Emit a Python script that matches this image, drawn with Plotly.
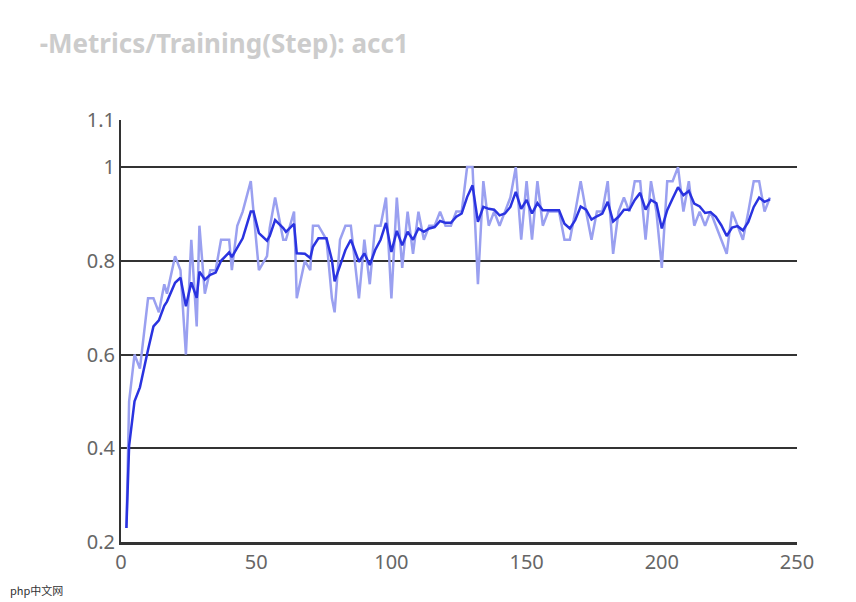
import plotly.graph_objects as go

steps = [2,3,5,7,10,12,14,16,17,20,22,24,26,28,29,31,33,35,37,40,41,43,45,48,49,51,54,55,57,60,61,64,65,68,70,71,73,76,78,79,81,83,85,
         88,90,92,94,96,98,100,102,104,106,108,110,112,114,116,118,120,122,124,126,128,130,132,134,136,138,140,142,144,146,148,150,152,154,156,158,160,162,164,166,168,
         170,172,174,176,178,180,182,184,186,188,190,192,194,196,198,200,202,204,206,208,210,212,214,216,218,220,222,224,226,228,230,232,234,236,238,240]

raw = [0.23,0.50,0.60,0.57,0.72,0.72,0.69,0.75,0.73,0.81,0.78,0.60,0.845,0.66,0.875,0.73,0.78,0.78,0.845,0.845,0.78,0.875,0.905,0.97,0.905,0.78,0.81,0.87,0.935,0.845,0.845,0.905,0.72,0.80,0.78,0.875,0.875,0.845,0.72,0.69,0.845,0.875,0.875,
       0.72,0.845,0.75,0.875,0.875,0.935,0.72,0.935,0.785,0.905,0.815,0.905,0.845,0.875,0.875,0.905,0.875,0.875,0.905,0.905,1.0,1.0,0.75,0.97,0.875,0.905,0.875,0.905,0.935,1.0,0.845,0.97,0.845,0.97,0.875,0.905,0.905,0.905,0.845,0.845,0.905,
       0.97,0.905,0.845,0.905,0.905,0.97,0.815,0.905,0.935,0.905,0.97,0.97,0.845,0.97,0.905,0.785,0.97,0.97,1.0,0.905,0.97,0.875,0.905,0.875,0.905,0.875,0.845,0.815,0.905,0.875,0.845,0.905,0.97,0.97,0.905,0.935]

smoothed = [0.23,0.405,0.50,0.53,0.61,0.66,0.673,0.704,0.713,0.753,0.764,0.703,0.754,0.721,0.777,0.76,0.77,0.775,0.80,0.818,0.808,0.827,0.848,0.905,0.905,0.859,0.843,0.853,0.887,0.87,0.862,0.879,0.816,0.815,0.806,0.83,0.848,0.848,0.802,0.756,0.79,0.823,0.845,
            0.798,0.816,0.791,0.823,0.845,0.881,0.819,0.864,0.833,0.862,0.845,0.869,0.862,0.869,0.872,0.885,0.881,0.881,0.894,0.901,0.936,0.961,0.883,0.915,0.911,0.909,0.897,0.901,0.915,0.947,0.911,0.93,0.901,0.923,0.908,0.908,0.908,0.908,0.879,0.869,0.887,
            0.916,0.909,0.888,0.895,0.901,0.926,0.884,0.894,0.909,0.909,0.93,0.945,0.909,0.93,0.923,0.869,0.908,0.933,0.957,0.94,0.949,0.922,0.916,0.902,0.904,0.894,0.876,0.853,0.871,0.874,0.865,0.883,0.915,0.935,0.926,0.931]

fig = go.Figure()
fig.add_trace(go.Scatter(x=steps, y=raw, mode="lines", line=dict(color="#9aa0f0", width=2.5), showlegend=False))
fig.add_trace(go.Scatter(x=steps, y=smoothed, mode="lines", line=dict(color="#2a33e0", width=2.5), showlegend=False))

fig.update_layout(
    width=856, height=602, plot_bgcolor="white", paper_bgcolor="white",
    margin=dict(l=113, r=67, t=112, b=68),
    font=dict(family="Noto Sans", color="#666", size=20),
    title=dict(text="<b>-Metrics/Training(Step): acc1</b>", x=0.037, xanchor="left", y=0.955, yanchor="top",
               font=dict(size=26, color="#cccccc")),
    annotations=[dict(text="php中文网", x=0, y=0, xref="paper", yref="paper", xshift=-113, yshift=-58,
                      showarrow=False, xanchor="left", yanchor="bottom",
                      font=dict(size=11, color="#333", family="Noto Sans CJK SC"))],
)
fig.update_xaxes(range=[0, 250], tickvals=[0, 50, 100, 150, 200, 250], ticktext=["0", "50", "100", "150", "200", "250"],
                 showgrid=False, showline=True, linecolor="#333", linewidth=3, ticks="", zeroline=False)
fig.update_yaxes(range=[0.2, 1.1005], tickvals=[0.2, 0.4, 0.6, 0.8, 1.0, 1.1], ticktext=["0.2", "0.4", "0.6", "0.8", "1", "1.1"],
                 showgrid=True, gridcolor="#333", gridwidth=2, showline=True, linecolor="#333", linewidth=2,
                 ticks="", zeroline=False)
fig.write_html("out.html")
